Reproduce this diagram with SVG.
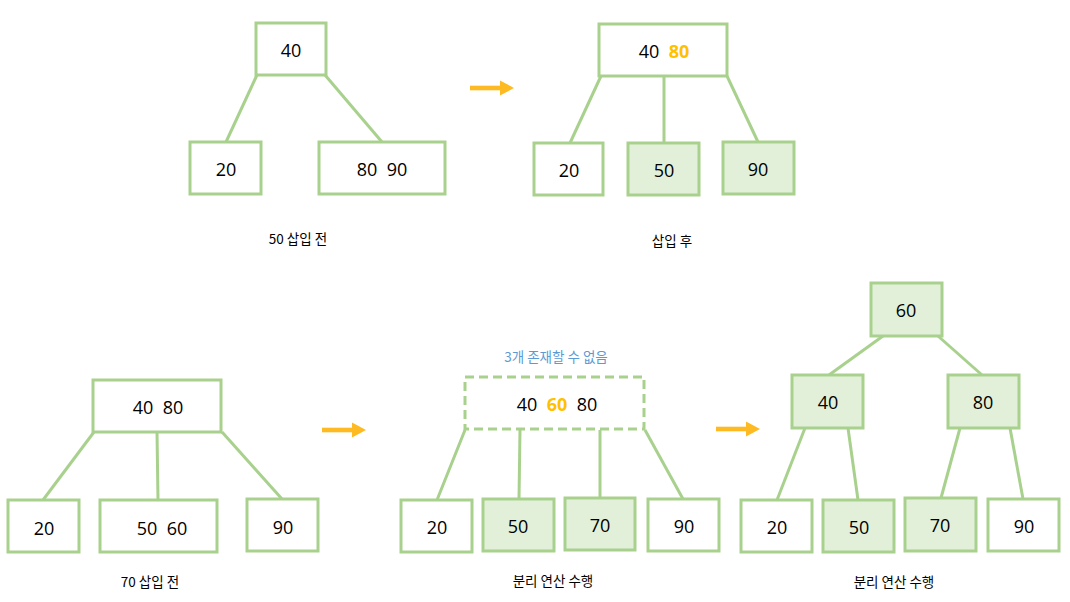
<svg xmlns="http://www.w3.org/2000/svg" width="1070" height="602" viewBox="0 0 1070 602">
<defs>
<style>
.n{fill:#FFFFFF;stroke:#A9D18E;stroke-width:3}
.f{fill:#E2F0D9;stroke:#A9D18E;stroke-width:3}
.d{fill:none;stroke:#A9D18E;stroke-width:3;stroke-dasharray:9,5}
.e{stroke:#A9D18E;stroke-width:3;fill:none}
.t{font-family:"Open Sans","Noto Sans CJK KR",sans-serif;font-size:18px;fill:#000000;text-anchor:middle}
.o{fill:#FFC000;font-weight:bold}
.l{font-family:"Noto Sans CJK KR","Open Sans",sans-serif;font-size:13.5px;fill:#000000;text-anchor:middle}
.b{fill:#5B9BD5}
.a{fill:#FDBA22}
</style>
<g id="arrowShape"><rect x="0" y="-2.3" width="31" height="4.6"/><polygon points="30,-7.5 44,0 30,7.5"/></g>
</defs>
<rect width="1070" height="602" fill="#FFFFFF"/>

<g id="connectors">
<line class="e" x1="257" y1="75" x2="226" y2="142"/>
<line class="e" x1="325" y1="75" x2="382" y2="142"/>
<line class="e" x1="601" y1="76" x2="570" y2="143"/>
<line class="e" x1="664" y1="76" x2="664" y2="143"/>
<line class="e" x1="727" y1="76" x2="758" y2="142"/>
<line class="e" x1="94" y1="432" x2="43" y2="500"/>
<line class="e" x1="157" y1="432" x2="158" y2="500"/>
<line class="e" x1="222" y1="432" x2="282" y2="499"/>
<line class="e" x1="465" y1="430" x2="437" y2="500"/>
<line class="e" x1="520" y1="430" x2="519" y2="499"/>
<line class="e" x1="600" y1="430" x2="600" y2="498"/>
<line class="e" x1="645" y1="430" x2="683" y2="499"/>
<line class="e" x1="883" y1="336" x2="829" y2="375"/>
<line class="e" x1="938" y1="336" x2="982" y2="375"/>
<line class="e" x1="805" y1="428" x2="777" y2="500"/>
<line class="e" x1="848" y1="428" x2="858" y2="500"/>
<line class="e" x1="960" y1="428" x2="941" y2="498"/>
<line class="e" x1="1010" y1="428" x2="1023" y2="499"/>
</g>

<g id="arrows" class="a">
<use href="#arrowShape" x="470" y="88"/>
<use href="#arrowShape" x="322" y="430"/>
<use href="#arrowShape" x="716" y="429"/>
</g>

<g id="n1-40"><rect class="n" x="256" y="23" width="70" height="52"/><text class="t" x="291" y="57">40</text></g>
<g id="n1-20"><rect class="n" x="190" y="142" width="71" height="52"/><text class="t" x="226" y="176">20</text></g>
<g id="n1-8090"><rect class="n" x="319" y="142" width="126" height="52"/><text class="t" x="382" y="176" xml:space="preserve">80  90</text></g>
<text id="lbl1" class="l" x="298" y="244">50 삽입 전</text>

<g id="n2-4080"><rect class="n" x="599" y="24" width="128" height="52"/><text class="t" x="664" y="58" xml:space="preserve">40  <tspan class="o">80</tspan></text></g>
<g id="n2-20"><rect class="n" x="534" y="143" width="69" height="52"/><text class="t" x="569" y="177">20</text></g>
<g id="n2-50"><rect class="f" x="628" y="143" width="71" height="52"/><text class="t" x="664" y="177">50</text></g>
<g id="n2-90"><rect class="f" x="723" y="142" width="71" height="52"/><text class="t" x="758" y="176">90</text></g>
<text id="lbl2" class="l" x="672" y="246">삽입 후</text>

<g id="n3-4080"><rect class="n" x="93" y="380" width="128" height="52"/><text class="t" x="158" y="414" xml:space="preserve">40  80</text></g>
<g id="n3-20"><rect class="n" x="8" y="500" width="71" height="52"/><text class="t" x="44" y="535">20</text></g>
<g id="n3-5060"><rect class="n" x="100" y="500" width="117" height="52"/><text class="t" x="162" y="535" xml:space="preserve">50  60</text></g>
<g id="n3-90"><rect class="n" x="247" y="499" width="71" height="52"/><text class="t" x="283" y="534">90</text></g>
<text id="lbl3" class="l" x="150" y="587">70 삽입 전</text>

<text id="note" class="l b" x="556" y="362">3개 존재할 수 없음</text>
<g id="n4-406080"><rect class="d" x="465" y="377" width="179" height="52"/><text class="t" x="557" y="411" xml:space="preserve">40  <tspan class="o">60</tspan>  80</text></g>
<g id="n4-20"><rect class="n" x="401" y="500" width="71" height="52"/><text class="t" x="437" y="534">20</text></g>
<g id="n4-50"><rect class="f" x="483" y="499" width="71" height="52"/><text class="t" x="518" y="533">50</text></g>
<g id="n4-70"><rect class="f" x="565" y="498" width="70" height="52"/><text class="t" x="600" y="532">70</text></g>
<g id="n4-90"><rect class="n" x="648" y="499" width="71" height="52"/><text class="t" x="684" y="533">90</text></g>
<text id="lbl4" class="l" x="553" y="586">분리 연산 수행</text>

<g id="n5-60"><rect class="f" x="871" y="283" width="71" height="53"/><text class="t" x="906" y="317">60</text></g>
<g id="n5-40"><rect class="f" x="792" y="375" width="71" height="53"/><text class="t" x="828" y="409">40</text></g>
<g id="n5-80"><rect class="f" x="948" y="375" width="71" height="53"/><text class="t" x="983" y="409">80</text></g>
<g id="n5-20"><rect class="n" x="741" y="500" width="71" height="52"/><text class="t" x="777" y="534">20</text></g>
<g id="n5-50"><rect class="f" x="823" y="500" width="71" height="52"/><text class="t" x="859" y="534">50</text></g>
<g id="n5-70"><rect class="f" x="905" y="498" width="71" height="53"/><text class="t" x="940" y="532">70</text></g>
<g id="n5-90"><rect class="n" x="988" y="499" width="71" height="52"/><text class="t" x="1024" y="533">90</text></g>
<text id="lbl5" class="l" x="894" y="587">분리 연산 수행</text>
</svg>
